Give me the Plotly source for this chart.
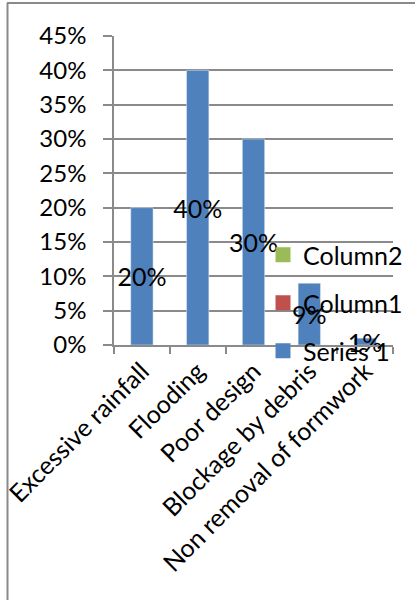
import plotly.graph_objects as go

categories = ["Excessive rainfall", "Flooding", "Poor design", "Blockage by debris", "Non removal of formwork"]
series1 = [0.20, 0.40, 0.30, 0.09, 0.01]
column1 = [None, None, None, None, None]
column2 = [None, None, None, None, None]
ytick_vals = [0, 0.05, 0.10, 0.15, 0.20, 0.25, 0.30, 0.35, 0.40, 0.45]
series_names = ["Series 1", "Column1", "Column2"]
series_colors = ["#4F81BD", "#C0504D", "#9BBB59"]

FONT = "Lato"
FS = 25
GRID = "#8a8a8a"

W, H = 415, 600
L, R, T, B = 114, 22, 36, 255
pw, ph = W - L - R, H - T - B

def px_to_paper_x(x):
    return (x - L) / pw

def px_to_paper_y(y):
    return (H - B - y) / ph

fig = go.Figure()
fig.add_trace(go.Bar(
    x=categories, y=series1, name=series_names[0], marker_color=series_colors[0],
    width=0.4, texttemplate="%{y:.0%}", textposition="inside",
    insidetextanchor="middle", textangle=0, constraintext="none",
    insidetextfont=dict(color="black", size=FS, family=FONT),
    cliponaxis=False, showlegend=False,
))
fig.add_trace(go.Bar(x=categories, y=column1, name=series_names[1], marker_color=series_colors[1],
                     width=0.4, showlegend=False))
fig.add_trace(go.Bar(x=categories, y=column2, name=series_names[2], marker_color=series_colors[2],
                     width=0.4, showlegend=False))

# legend entries (legend-only markers)
legend_ids = ["legend3", "legend2", "legend"]
for name, color, lid in zip(series_names, series_colors, legend_ids):
    fig.add_trace(go.Scatter(
        x=[None], y=[None], mode="markers", name=name,
        marker=dict(symbol="square", size=15, color=color),
        showlegend=True, legend=lid,
    ))

leg_common = dict(bgcolor="rgba(0,0,0,0)", borderwidth=0, xanchor="left", yanchor="middle",
                  font=dict(family=FONT, size=FS, color="black"), visible=True)
lx = px_to_paper_x(263)

fig.update_layout(
    width=W, height=H,
    margin=dict(l=L, r=R, t=T, b=B, pad=0, autoexpand=False),
    paper_bgcolor="white", plot_bgcolor="white",
    barmode="overlay", showlegend=True,
    font=dict(family=FONT, size=FS, color="black"),
    legend=dict(x=lx, y=px_to_paper_y(255), **leg_common),
    legend2=dict(x=lx, y=px_to_paper_y(303), **leg_common),
    legend3=dict(x=lx, y=px_to_paper_y(351), **leg_common),
    xaxis=dict(
        type="category", tickangle=-45, tickson="boundaries", automargin=False,
        ticks="outside", ticklen=7, tickcolor=GRID, tickwidth=1.5,
        showline=True, linecolor=GRID, linewidth=1.5,
        showgrid=False, tickfont=dict(family=FONT, size=FS, color="black"),
    ),
    yaxis=dict(
        range=[0, 0.45], tickvals=ytick_vals, tickformat=".0%", automargin=False,
        ticks="outside", ticklen=9, tickcolor=GRID, tickwidth=1.5,
        showline=True, linecolor=GRID, linewidth=1.5,
        showgrid=True, gridcolor=GRID, gridwidth=1.5, zeroline=False,
        ticklabelstandoff=12,
        tickfont=dict(family=FONT, size=24, color="black"),
    ),
    shapes=[
        dict(type="line", xref="paper", yref="paper",
             x0=px_to_paper_x(7), x1=px_to_paper_x(W + 5), y0=px_to_paper_y(3), y1=px_to_paper_y(3),
             line=dict(color="#8a8a8a", width=2)),
        dict(type="line", xref="paper", yref="paper",
             x0=px_to_paper_x(7.5), x1=px_to_paper_x(7.5), y0=px_to_paper_y(3), y1=px_to_paper_y(H + 5),
             line=dict(color="#8a8a8a", width=2)),
    ],
)

fig.write_html("out.html")
